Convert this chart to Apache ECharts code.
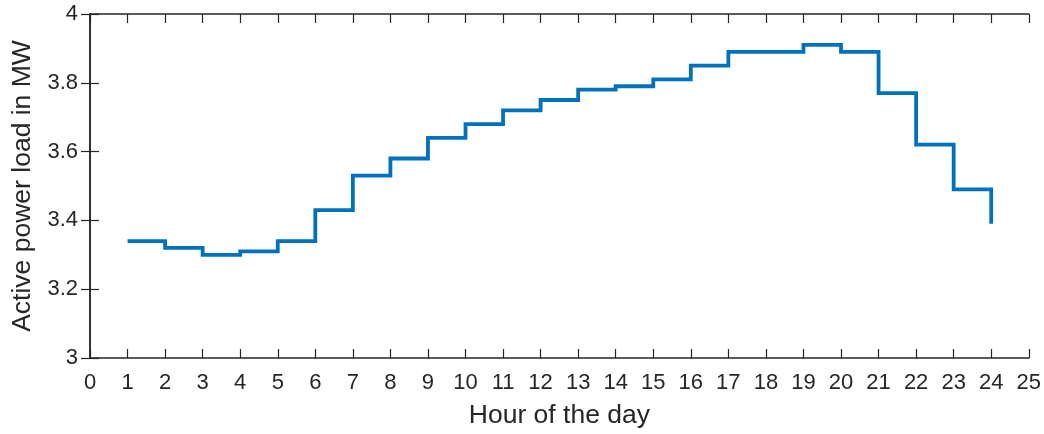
<!DOCTYPE html>
<html>
<head>
<meta charset="utf-8">
<script src="https://cdn.jsdelivr.net/npm/echarts@6/dist/echarts.min.js"></script>
<style>
  html, body { margin: 0; padding: 0; background: #fff; }
  #loadChart { width: 1044px; height: 434px; }
</style>
</head>
<body>
<div id="loadChart"></div>
<script>
// hour of the day and load (MW), stairs plot
const hours = [1, 2, 3, 4, 5, 6, 7, 8, 9, 10, 11, 12, 13, 14, 15, 16, 17, 18, 19, 20, 21, 22, 23, 24];
const loadMW = [3.34, 3.32, 3.30, 3.31, 3.34, 3.43, 3.53, 3.58, 3.64, 3.68, 3.72, 3.75,
                3.78, 3.79, 3.81, 3.85, 3.89, 3.89, 3.91, 3.89, 3.77, 3.62, 3.49, 3.39];
const xRange = [0, 25];
const yRange = [3, 4];

const axisColor = '#262626';
const font = '"Liberation Sans", Arial, sans-serif';

let chart = echarts.init(document.getElementById('loadChart'));

// box axes (top / right) only carry the mirrored ticks
const boxX = {
  type: 'value', position: 'top', min: xRange[0], max: xRange[1], interval: 1,
  axisLine: { show: true, lineStyle: { color: axisColor, width: 1.5 } },
  axisTick: { show: true, inside: true, length: 9, lineStyle: { color: axisColor, width: 1.2 } },
  axisLabel: { show: false },
  splitLine: { show: false }
};
const boxY = {
  type: 'value', position: 'right', min: yRange[0], max: yRange[1], interval: 0.2,
  axisLine: { show: true, lineStyle: { color: axisColor, width: 1.5 } },
  axisTick: { show: true, inside: true, length: 9, lineStyle: { color: axisColor, width: 1.2 } },
  axisLabel: { show: false },
  splitLine: { show: false }
};

let option = {
  animation: false,
  grid: { left: 90, right: 15, top: 14, bottom: 74 },
  xAxis: [
    {
      type: 'value',
      min: xRange[0], max: xRange[1], interval: 1,
      name: 'Hour of the day',
      nameLocation: 'middle',
      nameGap: 44,
      nameTextStyle: { color: axisColor, fontSize: 26.5, fontFamily: font },
      axisLine: { show: true, onZero: false, lineStyle: { color: axisColor, width: 1.5 } },
      axisTick: { show: true, inside: true, length: 9, lineStyle: { color: axisColor, width: 1.2 } },
      axisLabel: { color: axisColor, fontSize: 22, fontFamily: font, margin: 14, interval: 0, hideOverlap: false },
      splitLine: { show: false }
    },
    boxX
  ],
  yAxis: [
    {
      type: 'value',
      min: yRange[0], max: yRange[1], interval: 0.2,
      name: 'Active power load in MW',
      nameLocation: 'middle',
      nameGap: 52,
      nameTextStyle: { color: axisColor, fontSize: 26.5, fontFamily: font },
      axisLine: { show: true, onZero: false, lineStyle: { color: axisColor, width: 1.5 } },
      axisTick: { show: true, inside: true, length: 9, lineStyle: { color: axisColor, width: 1.2 } },
      axisLabel: { color: axisColor, fontSize: 22, fontFamily: font, margin: 12 },
      splitLine: { show: false }
    },
    boxY
  ],
  series: [
    {
      type: 'line',
      step: 'end',
      data: hours.map((h, i) => [h, loadMW[i]]),
      showSymbol: false,
      lineStyle: { color: '#0072BD', width: 3.8, cap: 'butt', join: 'miter' },
      xAxisIndex: 0,
      yAxisIndex: 0
    }
  ]
};
chart.setOption(option);
</script>
</body>
</html>
